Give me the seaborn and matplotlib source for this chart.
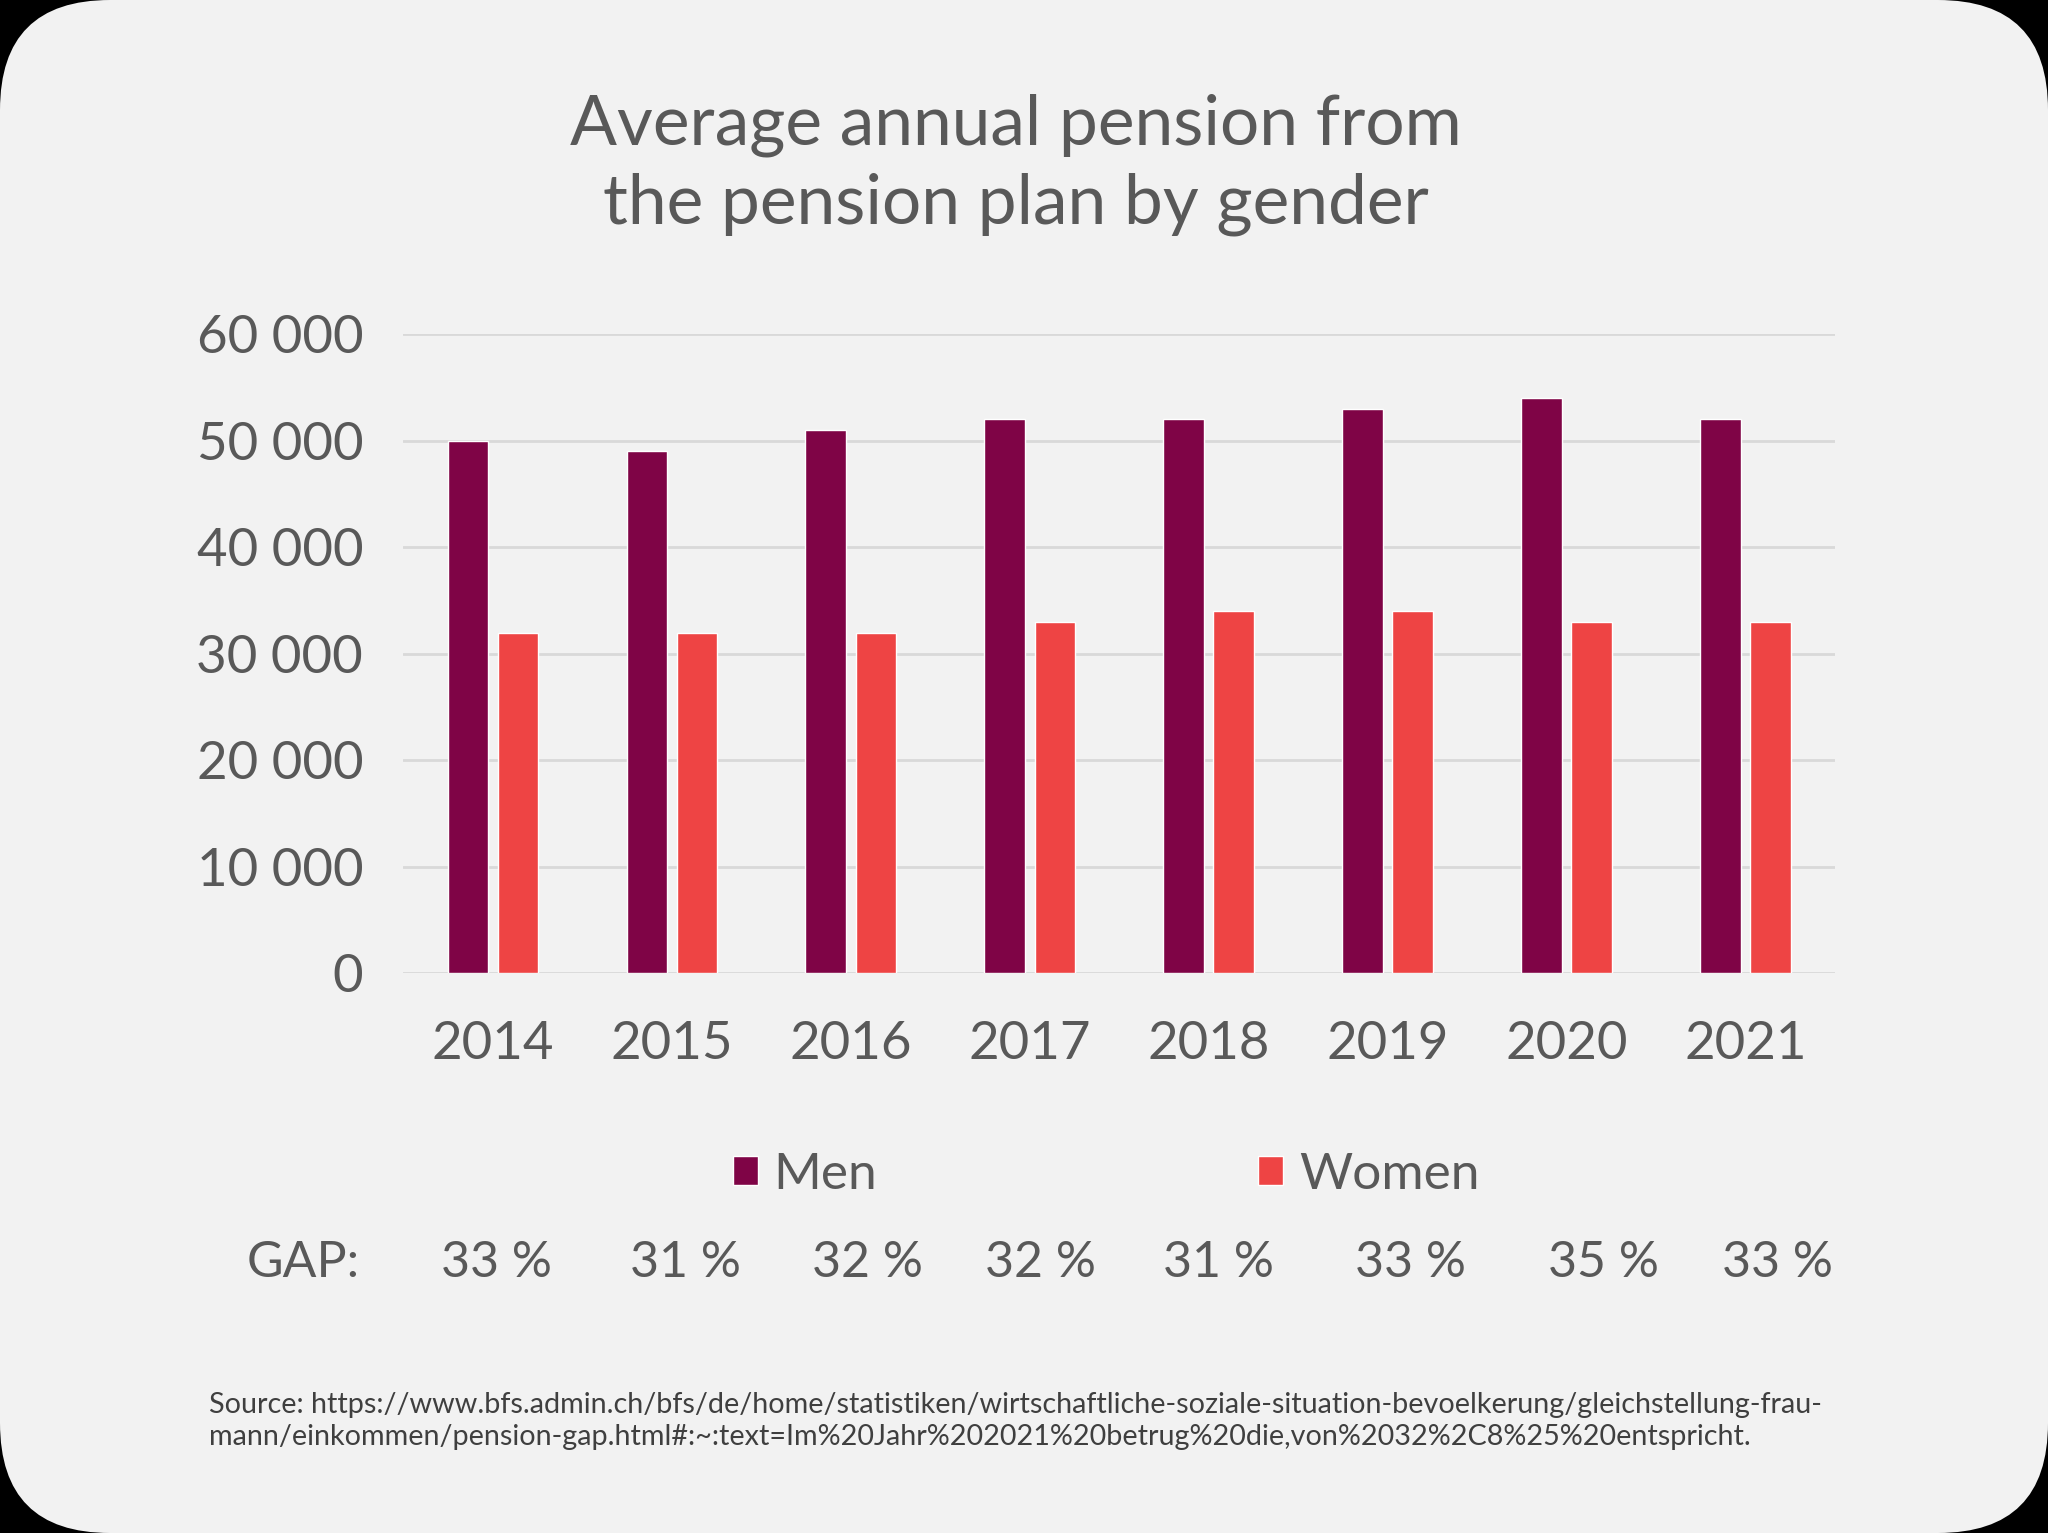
import pandas as pd
import matplotlib
matplotlib.use("Agg")
import matplotlib.pyplot as plt
import seaborn as sns
from matplotlib.patches import FancyBboxPatch

# data
years = ["2014", "2015", "2016", "2017", "2018", "2019", "2020", "2021"]
men = [50000, 49000, 51000, 52000, 52000, 53000, 54000, 52000]
women = [32000, 32000, 32000, 33000, 34000, 34000, 33000, 33000]
gap_labels = ["33 %", "31 %", "32 %", "32 %", "31 %", "33 %", "35 %", "33 %"]
y_ticks = [0, 10000, 20000, 30000, 40000, 50000, 60000]

df = pd.DataFrame({"year": years * 2,
                   "pension": men + women,
                   "gender": ["Men"] * len(years) + ["Women"] * len(years)})

txt = "#595959"
bg = "#f2f2f2"
sns.set_style("white")
plt.rcParams["font.family"] = ["Lato", "DejaVu Sans"]

fig = plt.figure(figsize=(20.48, 15.33), dpi=100, facecolor="black")
# rounded card behind everything
card = FancyBboxPatch((0, 0), 20.48, 15.33, boxstyle="round,pad=0,rounding_size=1.1",
                      transform=fig.dpi_scale_trans, facecolor=bg, edgecolor="none",
                      zorder=-10)
fig.patches.append(card)

ax = fig.add_axes([0.197, 0.365, 0.699, 0.417])
ax.set_facecolor(bg)
sns.barplot(data=df, x="year", y="pension", hue="gender",
            palette=["#7f0446", "#ee4444"], saturation=1,
            width=0.56, gap=0.19, ax=ax, zorder=3)

ax.set_xlim(-0.5, 7.5)
ax.set_ylim(0, 60000)
ax.set_yticks(y_ticks)
ax.set_yticklabels([f"{v:,}".replace(",", " ") for v in y_ticks])
ax.yaxis.grid(True, color="#d9d9d9", linewidth=2)
ax.set_axisbelow(True)
for s in ax.spines.values():
    s.set_visible(False)
ax.tick_params(axis="both", length=0, labelsize=38, labelcolor=txt)
ax.tick_params(axis="y", pad=29)
ax.tick_params(axis="x", pad=34)
ax.set_xlabel("")
ax.set_ylabel("")

sns.move_legend(ax, "center", bbox_to_anchor=(0.540, 0.2335),
                bbox_transform=fig.transFigure, ncol=2, frameon=False,
                title=None, fontsize=37, handlelength=0.5, handleheight=0.5,
                handletextpad=0.3, columnspacing=7.4, labelcolor=txt)

fig.text(0.496, 0.8927, "Average annual pension from\nthe pension plan by gender",
         ha="center", va="center", fontsize=50, color=txt, linespacing=1.3)

# GAP row
gap_x = [0.2423, 0.3348, 0.4235, 0.5083, 0.5950, 0.6888, 0.7832, 0.8680]
fig.text(0.1755, 0.176, "GAP:", ha="right", va="center", fontsize=36, color=txt)
for gx, g in zip(gap_x, gap_labels):
    fig.text(gx, 0.176, g, ha="center", va="center", fontsize=36, color=txt)

fig.text(0.102, 0.073,
         "Source: https://www.bfs.admin.ch/bfs/de/home/statistiken/wirtschaftliche-soziale-situation-bevoelkerung/gleichstellung-frau-\n"
         "mann/einkommen/pension-gap.html#:~:text=Im%20Jahr%202021%20betrug%20die,von%2032%2C8%25%20entspricht.",
         ha="left", va="center", fontsize=20.7, color="#3f3f3f", linespacing=1.3)

fig.savefig("out.png", dpi=100, facecolor=fig.get_facecolor())
